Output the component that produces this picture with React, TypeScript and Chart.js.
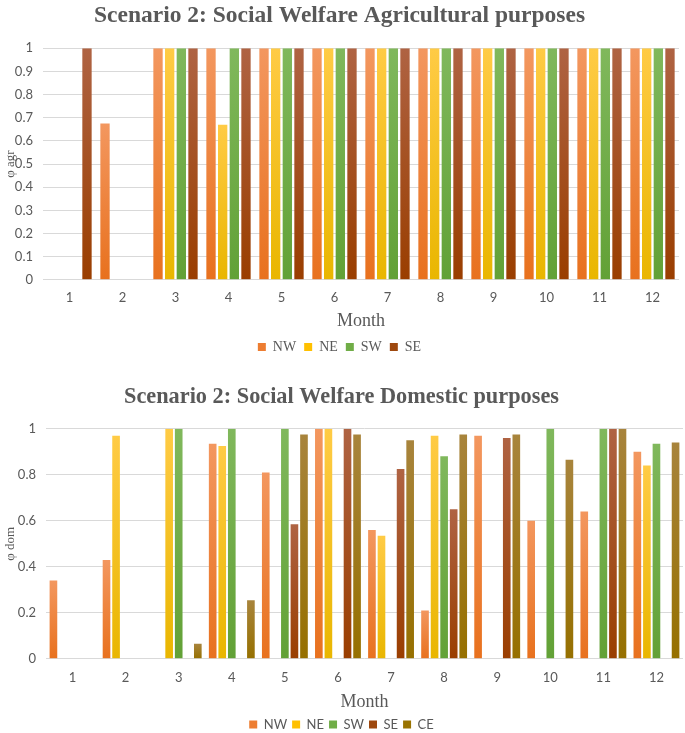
import React, { useEffect, useRef } from "react";
import { Chart, registerables } from "chart.js";

Chart.register(...registerables);

const months = ["1", "2", "3", "4", "5", "6", "7", "8", "9", "10", "11", "12"];

// Agricultural purposes
const agrNW = [0, 0.675, 1, 1, 1, 1, 1, 1, 1, 1, 1, 1];
const agrNE = [0, 0, 1, 0.67, 1, 1, 1, 1, 1, 1, 1, 1];
const agrSW = [0, 0, 1, 1, 1, 1, 1, 1, 1, 1, 1, 1];
const agrSE = [1, 0, 1, 1, 1, 1, 1, 1, 1, 1, 1, 1];

// Domestic purposes
const domNW = [0.34, 0.43, 0, 0.935, 0.81, 1, 0.56, 0.21, 0.97, 0.6, 0.64, 0.9];
const domNE = [0, 0.97, 1, 0.925, 0, 1, 0.535, 0.97, 0, 0, 0, 0.84];
const domSW = [0, 0, 1, 1, 1, 0, 0, 0.88, 0, 1, 1, 0.935];
const domSE = [0, 0, 0, 0, 0.585, 1, 0.825, 0.65, 0.96, 0, 1, 0];
const domCE = [0, 0, 0.065, 0.255, 0.975, 0.975, 0.95, 0.975, 0.975, 0.865, 1, 0.94];

const seriesColors: Record<string, [string, string, string]> = {
  NW: ["#ED7D31", "#F3975F", "#E8711E"],
  NE: ["#FFC000", "#FFCB45", "#E9B600"],
  SW: ["#70AD47", "#80B85C", "#62A136"],
  SE: ["#9E480E", "#AF6343", "#9A3E00"],
  CE: ["#997300", "#A8843C", "#967000"],
};

const GREY = "#595959";
const SERIF = "'Liberation Serif', 'Times New Roman', serif";
const SANS = "Lato, 'Open Sans', sans-serif";

function gradientFill(name: string) {
  const [base, light, dark] = seriesColors[name];
  return (ctx: any) => {
    if (ctx.type !== "data") return base;
    const chart = ctx.chart;
    const y = chart.scales && chart.scales.y;
    if (!y || !ctx.parsed) return base;
    const top = y.getPixelForValue(ctx.parsed.y);
    const bottom = y.getPixelForValue(0);
    if (!isFinite(top) || !isFinite(bottom) || Math.abs(bottom - top) < 1) return base;
    const g = chart.ctx.createLinearGradient(0, top, 0, bottom);
    g.addColorStop(0, light);
    g.addColorStop(1, dark);
    return g;
  };
}

function makeDataset(name: string, data: number[], barPct: number, catPct: number) {
  return {
    label: name,
    data,
    backgroundColor: gradientFill(name),
    borderWidth: 0,
    barPercentage: barPct,
    categoryPercentage: catPct,
  };
}

function legendLabels(chart: any) {
  return chart.data.datasets.map((ds: any, i: number) => ({
    text: ds.label,
    fillStyle: seriesColors[ds.label][0],
    strokeStyle: seriesColors[ds.label][0],
    lineWidth: 0,
    hidden: false,
    datasetIndex: i,
    fontColor: GREY,
  }));
}

function buildConfig(opts: {
  title: string;
  titleSize: number;
  titlePadBottom: number;
  yTitle: string;
  datasets: any[];
  step: number;
  legendFont: any;
  yWidth: number;
  rightPad: number;
  tickPad: number;
  monthPadTop: number;
  legendPad: number;
}) {
  return {
    type: "bar" as const,
    data: { labels: months, datasets: opts.datasets },
    options: {
      animation: false,
      responsive: false,
      maintainAspectRatio: false,
      layout: { padding: { left: 0, right: opts.rightPad, top: 0, bottom: 0 } },
      plugins: {
        title: {
          display: true,
          text: opts.title,
          color: GREY,
          font: { family: SERIF, size: opts.titleSize, weight: "bold" },
          padding: { top: 2, bottom: opts.titlePadBottom },
        },
        legend: {
          position: "bottom",
          labels: {
            generateLabels: legendLabels,
            boxWidth: 8,
            boxHeight: 8,
            padding: opts.legendPad,
            color: GREY,
            font: opts.legendFont,
          },
        },
        tooltip: { enabled: false },
      },
      scales: {
        x: {
          grid: { display: false, drawTicks: false },
          border: { display: false },
          ticks: { color: GREY, font: { family: SANS, size: 13 }, padding: opts.tickPad },
          title: {
            display: true,
            text: "Month",
            color: GREY,
            font: { family: SERIF, size: 18 },
            padding: { top: opts.monthPadTop, bottom: 0 },
          },
        },
        y: {
          min: 0,
          max: 1,
          ticks: {
            stepSize: opts.step,
            color: GREY,
            font: { family: SANS, size: 13 },
            padding: 10,
            callback: (v: any) => String(Math.round(Number(v) * 10) / 10),
          },
          grid: { color: "#D9D9D9", drawTicks: false, lineWidth: 1 },
          border: { display: false },
          title: {
            display: true,
            text: opts.yTitle,
            color: GREY,
            font: { family: SERIF, size: 13 },
            padding: { top: 3, bottom: 0 },
          },
          afterFit: (s: any) => {
            s.width = opts.yWidth;
          },
        },
      },
    },
  };
}

function BarChart({ config, width, height }: { config: any; width: number; height: number }) {
  const ref = useRef<HTMLCanvasElement | null>(null);
  useEffect(() => {
    if (!ref.current) return;
    const chart = new Chart(ref.current, config);
    return () => chart.destroy();
  }, [config]);
  return <canvas ref={ref} width={width} height={height} style={{ display: "block", width, height }} />;
}

const agrConfig = buildConfig({
  title: "Scenario 2: Social Welfare Agricultural purposes",
  titleSize: 23.5,
  titlePadBottom: 18,
  yTitle: "φ agr",
  datasets: [
    makeDataset("NW", agrNW, 0.8, 0.88),
    makeDataset("NE", agrNE, 0.8, 0.88),
    makeDataset("SW", agrSW, 0.8, 0.88),
    makeDataset("SE", agrSE, 0.8, 0.88),
  ],
  step: 0.1,
  legendFont: { family: SERIF, size: 14 },
  yWidth: 43,
  rightPad: 6,
  tickPad: 10,
  monthPadTop: -5,
  legendPad: 8,
});

const domConfig = buildConfig({
  title: "Scenario 2: Social Welfare Domestic purposes",
  titleSize: 22.3,
  titlePadBottom: 18,
  yTitle: "φ dom",
  datasets: [
    makeDataset("NW", domNW, 0.8, 0.9),
    makeDataset("NE", domNE, 0.8, 0.9),
    makeDataset("SW", domSW, 0.8, 0.9),
    makeDataset("SE", domSE, 0.8, 0.9),
    makeDataset("CE", domCE, 0.8, 0.9),
  ],
  step: 0.2,
  legendFont: { family: SANS, size: 13 },
  yWidth: 46,
  rightPad: 2,
  tickPad: 11,
  monthPadTop: -5,
  legendPad: 5,
});

export default function App() {
  return (
    <div style={{ position: "absolute", left: 0, top: 0, width: 685, height: 733, background: "#fff", overflow: "hidden" }}>
      <div style={{ position: "absolute", left: 0, top: 0 }}>
        <BarChart config={agrConfig} width={685} height={364} />
      </div>
      <div style={{ position: "absolute", left: 0, top: 382 }}>
        <BarChart config={domConfig} width={685} height={359} />
      </div>
    </div>
  );
}
